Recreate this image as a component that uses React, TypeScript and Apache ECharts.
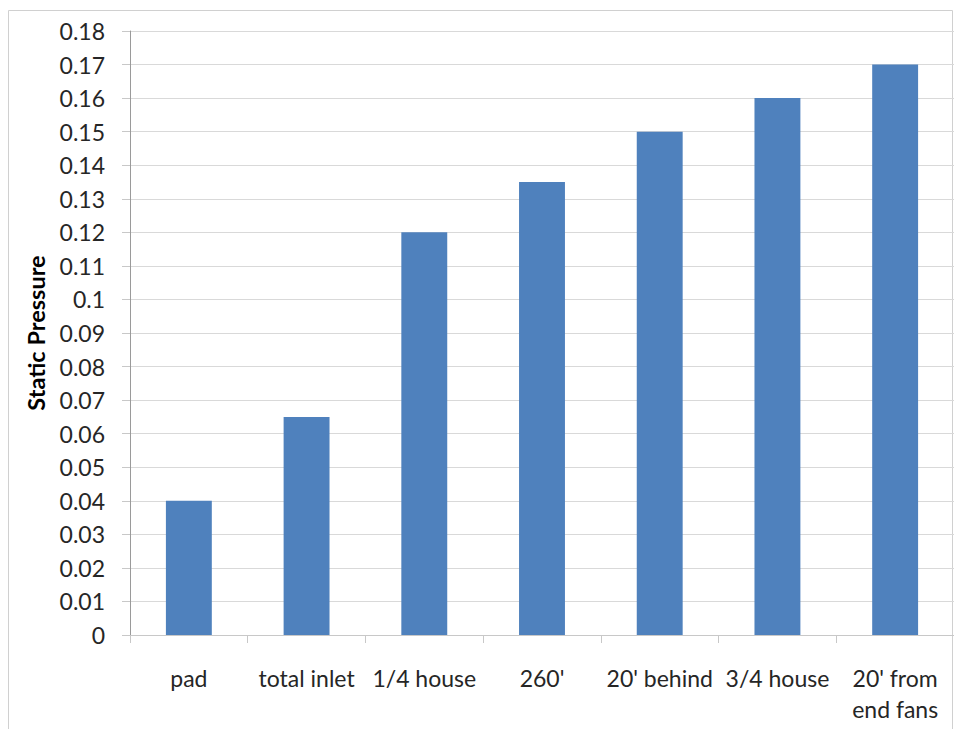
import React, { useEffect, useRef } from "react";
import * as echarts from "echarts";

const categories = ["pad", "total inlet", "1/4 house", "260'", "20' behind", "3/4 house", "20' from\nend fans"];
const values = [0.04, 0.065, 0.12, 0.135, 0.15, 0.16, 0.17];
const yAxisTitle = "Static Pressure";

export default function App() {
  const ref = useRef<HTMLDivElement>(null);
  useEffect(() => {
    const chart = echarts.init(ref.current!, null, { renderer: "svg" });
    chart.setOption({
      animation: false,
      backgroundColor: "#ffffff",
      graphic: [
        {
          type: "rect",
          shape: { x: 8.5, y: 10.5, width: 944, height: 740 },
          style: { fill: "none", stroke: "#d0d0d0", lineWidth: 1 },
          silent: true,
        },
      ],
      grid: { left: 130, top: 31, right: 0, bottom: 94, containLabel: false },
      xAxis: {
        type: "category",
        data: categories,
        axisLine: { lineStyle: { color: "#c8c8c8", width: 1 } },
        axisTick: { show: true, length: 8, alignWithLabel: false, lineStyle: { color: "#c8c8c8" } },
        axisLabel: {
          interval: 0,
          margin: 27,
          fontFamily: "Lato",
          fontSize: 23,
          color: "#262626",
          lineHeight: 31,
        },
      },
      yAxis: {
        type: "value",
        min: 0,
        max: 0.18,
        interval: 0.01,
        name: yAxisTitle,
        nameLocation: "middle",
        nameGap: 82,
        nameRotate: 90,
        nameTextStyle: { fontFamily: "Lato", fontSize: 23.5, fontWeight: "bold", color: "#000000" },
        axisLine: { show: true, lineStyle: { color: "#9a9a9a", width: 1 } },
        axisTick: { show: true, length: 8, lineStyle: { color: "#c8c8c8" } },
        splitLine: { show: true, lineStyle: { color: "#d9d9d9", width: 1 } },
        axisLabel: {
          margin: 25,
          fontFamily: "Lato",
          fontSize: 23,
          color: "#262626",
          formatter: (v: number) => String(parseFloat(v.toFixed(2))),
        },
      },
      series: [
        {
          type: "bar",
          data: values,
          barWidth: "39%",
          itemStyle: { color: "#4f81bd" },
        },
      ],
    });
    return () => chart.dispose();
  }, []);
  return (
    <div
      ref={ref}
      style={{ position: "absolute", left: 0, top: 0, width: 954, height: 729 }}
    />
  );
}
